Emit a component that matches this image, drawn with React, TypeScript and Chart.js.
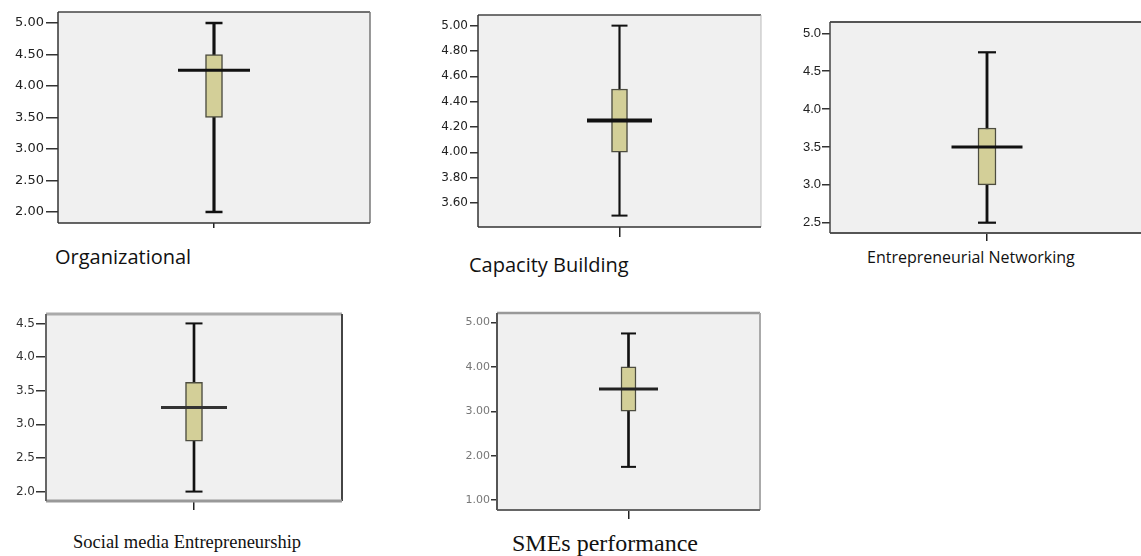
import React, { useEffect, useRef } from "react";
import { Chart, registerables } from "chart.js";

Chart.register(...registerables);

// ---- data ----
const categories = [
  "Organizational",
  "Capacity Building",
  "Entrepreneurial Networking",
  "Social media Entrepreneurship",
  "SMEs performance",
];
const minValues = [2.0, 3.5, 2.5, 2.0, 1.75];
const q1Values = [3.5, 4.0, 3.0, 2.75, 3.0];
const medianValues = [4.25, 4.25, 3.5, 3.25, 3.5];
const q3Values = [4.5, 4.5, 3.75, 3.625, 4.0];
const maxValues = [5.0, 5.0, 4.75, 4.5, 4.75];

const organizationalTicks = [2, 2.5, 3, 3.5, 4, 4.5, 5];
const capacityTicks = [3.6, 3.8, 4.0, 4.2, 4.4, 4.6, 4.8, 5.0];
const networkingTicks = [2.5, 3, 3.5, 4, 4.5, 5];
const socialTicks = [2, 2.5, 3, 3.5, 4, 4.5];
const performanceTicks = [1, 2, 3, 4, 5];
const tickSets = [organizationalTicks, capacityTicks, networkingTicks, socialTicks, performanceTicks];
const tickDecimals = [2, 2, 1, 1, 2];
const axisMin = [1.825, 3.41, 2.364, 1.86, 0.78];
const axisMax = [5.175, 5.084, 5.15, 4.64, 5.21];

// ---- layout / styles ----
type Side = [string, number];
interface Layout {
  L: number; T: number; R: number; B: number;
  yTick: number; yPad: number; xTick: number;
  tickFont: { family: string; size: number; color: string };
  boxW: number; capW: number; medW: number;
  whiskerLW: number; capLW: number; medLW: number; medColor: string;
  frame: { top: Side; right: Side; bottom: Side; left: Side };
  label: { left: number; baseline: number; family: string; size: number; k: number };
}

const layouts: Layout[] = [
  {
    L: 58, T: 12, R: 370, B: 223, yTick: 12, yPad: 2, xTick: 5,
    tickFont: { family: "DejaVu Sans", size: 13, color: "#222" },
    boxW: 17, capW: 17, medW: 72, whiskerLW: 2.5, capLW: 2.5, medLW: 3, medColor: "#111",
    frame: { top: ["#444", 1.5], right: ["#777", 1.5], bottom: ["#333", 1.5], left: ["#333", 1.5] },
    label: { left: 55, baseline: 265, family: "'Open Sans'", size: 20, k: 0.888 },
  },
  {
    L: 478, T: 15, R: 761, B: 227, yTick: 8, yPad: 2, xTick: 10,
    tickFont: { family: "DejaVu Sans", size: 12, color: "#222" },
    boxW: 16, capW: 16, medW: 65, whiskerLW: 1.5, capLW: 2, medLW: 4, medColor: "#111",
    frame: { top: ["#444", 1.5], right: ["#bbb", 1], bottom: ["#333", 1.5], left: ["#333", 1.5] },
    label: { left: 469, baseline: 273, family: "'Open Sans'", size: 20, k: 0.888 },
  },
  {
    L: 830, T: 22, R: 1144, B: 233, yTick: 8, yPad: 1, xTick: 8,
    tickFont: { family: "Liberation Sans", size: 13, color: "#222" },
    boxW: 18, capW: 18, medW: 71, whiskerLW: 2.2, capLW: 2.2, medLW: 3, medColor: "#111",
    frame: { top: ["#555", 2], right: ["#555", 2], bottom: ["#555", 2], left: ["#444", 1.5] },
    label: { left: 867, baseline: 263, family: "'Open Sans'", size: 16, k: 0.888 },
  },
  {
    L: 46, T: 314, R: 342, B: 501, yTick: 10, yPad: 1, xTick: 9,
    tickFont: { family: "DejaVu Sans", size: 12, color: "#333" },
    boxW: 17, capW: 17, medW: 66, whiskerLW: 2, capLW: 2, medLW: 3, medColor: "#333",
    frame: { top: ["#aaa", 3], right: ["#444", 2], bottom: ["#999", 3], left: ["#666", 2] },
    label: { left: 73, baseline: 548, family: "'Liberation Serif', 'Times New Roman', serif", size: 18.5, k: 0.8375 },
  },
  {
    L: 497, T: 313, R: 760, B: 510, yTick: 6, yPad: 1, xTick: 9,
    tickFont: { family: "DejaVu Sans", size: 11, color: "#777" },
    boxW: 15, capW: 15, medW: 59, whiskerLW: 2, capLW: 2, medLW: 3, medColor: "#222",
    frame: { top: ["#999", 2.5], right: ["#aaa", 2], bottom: ["#666", 2], left: ["#555", 2] },
    label: { left: 512, baseline: 551.5, family: "'Liberation Serif', 'Times New Roman', serif", size: 24, k: 0.8375 },
  },
];

const AXIS_W = 45;
const PAD_TOP = 3;
const PAD_RIGHT = 3;

function BoxPanel({ i, lay }: { i: number; lay: Layout }) {
  const ref = useRef<HTMLCanvasElement | null>(null);
  const width = lay.R - lay.L + AXIS_W + PAD_RIGHT;
  const xAxisH = lay.xTick + 3;
  const height = lay.B - lay.T + xAxisH + PAD_TOP;

  useEffect(() => {
    if (!ref.current) return;
    const framePlugin = {
      id: "frame" + i,
      beforeDatasetsDraw(chart: any) {
        const { ctx, chartArea } = chart;
        const { left, top, right, bottom } = chartArea;
        ctx.save();
        ctx.fillStyle = "#f0f0f0";
        ctx.fillRect(left, top, right - left, bottom - top);
        const line = (x1: number, y1: number, x2: number, y2: number, s: Side) => {
          ctx.strokeStyle = s[0];
          ctx.lineWidth = s[1];
          ctx.beginPath();
          ctx.moveTo(x1, y1);
          ctx.lineTo(x2, y2);
          ctx.stroke();
        };
        line(left, top, right, top, lay.frame.top);
        line(right, top, right, bottom, lay.frame.right);
        line(left, bottom, right, bottom, lay.frame.bottom);
        line(left, top, left, bottom, lay.frame.left);
        ctx.restore();
      },
    };

    const chart = new Chart(ref.current, {
      type: "bar",
      data: {
        labels: [categories[i]],
        datasets: [
          {
            type: "line",
            label: "median",
            data: [medianValues[i]],
            showLine: false,
            pointStyle: "line",
            pointRadius: lay.medW / 2,
            pointHoverRadius: lay.medW / 2,
            pointBorderWidth: lay.medLW,
            pointBorderColor: lay.medColor,
            clip: false,
            order: 0,
          } as any,
          {
            type: "line",
            label: "max",
            data: [maxValues[i]],
            showLine: false,
            pointStyle: "line",
            pointRadius: lay.capW / 2,
            pointBorderWidth: lay.capLW,
            pointBorderColor: "#111",
            clip: false,
            order: 1,
          } as any,
          {
            type: "line",
            label: "min",
            data: [minValues[i]],
            showLine: false,
            pointStyle: "line",
            pointRadius: lay.capW / 2,
            pointBorderWidth: lay.capLW,
            pointBorderColor: "#111",
            clip: false,
            order: 1,
          } as any,
          {
            type: "bar",
            label: "box",
            data: [[q1Values[i], q3Values[i]]],
            backgroundColor: "#d3cf98",
            borderColor: "#4d4d40",
            borderWidth: 1.5,
            borderSkipped: false,
            barThickness: lay.boxW,
            grouped: false,
            order: 2,
          } as any,
          {
            type: "bar",
            label: "whisker",
            data: [[minValues[i], maxValues[i]]],
            backgroundColor: "#111",
            borderWidth: 0,
            barThickness: lay.whiskerLW,
            grouped: false,
            order: 3,
          } as any,
        ],
      },
      options: {
        responsive: false,
        animation: false,
        devicePixelRatio: 1,
        events: [],
        layout: { autoPadding: false, padding: { top: PAD_TOP, right: PAD_RIGHT, left: 0, bottom: 0 } },
        plugins: { legend: { display: false }, tooltip: { enabled: false }, title: { display: false } },
        scales: {
          x: {
            type: "category",
            offset: true,
            grid: { offset: false, drawOnChartArea: false, drawTicks: true, tickLength: lay.xTick, color: "#222", lineWidth: 1.5 },
            border: { display: false },
            ticks: { display: false },
            afterFit: (s: any) => {
              s.height = xAxisH;
              s.paddingLeft = 0;
              s.paddingRight = 0;
            },
          },
          y: {
            type: "linear",
            min: axisMin[i],
            max: axisMax[i],
            afterBuildTicks: (s: any) => {
              s.ticks = tickSets[i].map((v) => ({ value: v }));
            },
            ticks: {
              autoSkip: false,
              padding: lay.yPad,
              color: lay.tickFont.color,
              font: { family: lay.tickFont.family, size: lay.tickFont.size },
              callback: (v: any) => Number(v).toFixed(tickDecimals[i]),
            },
            grid: { drawOnChartArea: false, drawTicks: true, tickLength: lay.yTick, color: "#333", lineWidth: 1.5 },
            border: { display: false },
            afterFit: (s: any) => {
              s.width = AXIS_W;
              s.paddingTop = 0;
              s.paddingBottom = 0;
            },
          },
        },
      } as any,
      plugins: [framePlugin],
    });
    return () => chart.destroy();
  }, []);

  return (
    <canvas
      ref={ref}
      width={width}
      height={height}
      style={{ position: "absolute", left: lay.L - AXIS_W, top: lay.T - PAD_TOP, width, height }}
    />
  );
}

export default function App() {
  return (
    <div
      style={{
        position: "fixed",
        left: 0,
        top: 0,
        width: 1141,
        height: 556,
        overflow: "hidden",
        background: "#ffffff",
      }}
    >
      {layouts.map((lay, i) => (
        <BoxPanel key={i} i={i} lay={lay} />
      ))}
      {layouts.map((lay, i) => (
        <div
          key={"l" + i}
          style={{
            position: "absolute",
            left: lay.label.left,
            top: lay.label.baseline - lay.label.k * lay.label.size,
            fontFamily: lay.label.family,
            fontSize: lay.label.size,
            lineHeight: lay.label.size + "px",
            whiteSpace: "nowrap",
            color: "#111",
          }}
        >
          {categories[i]}
        </div>
      ))}
    </div>
  );
}
